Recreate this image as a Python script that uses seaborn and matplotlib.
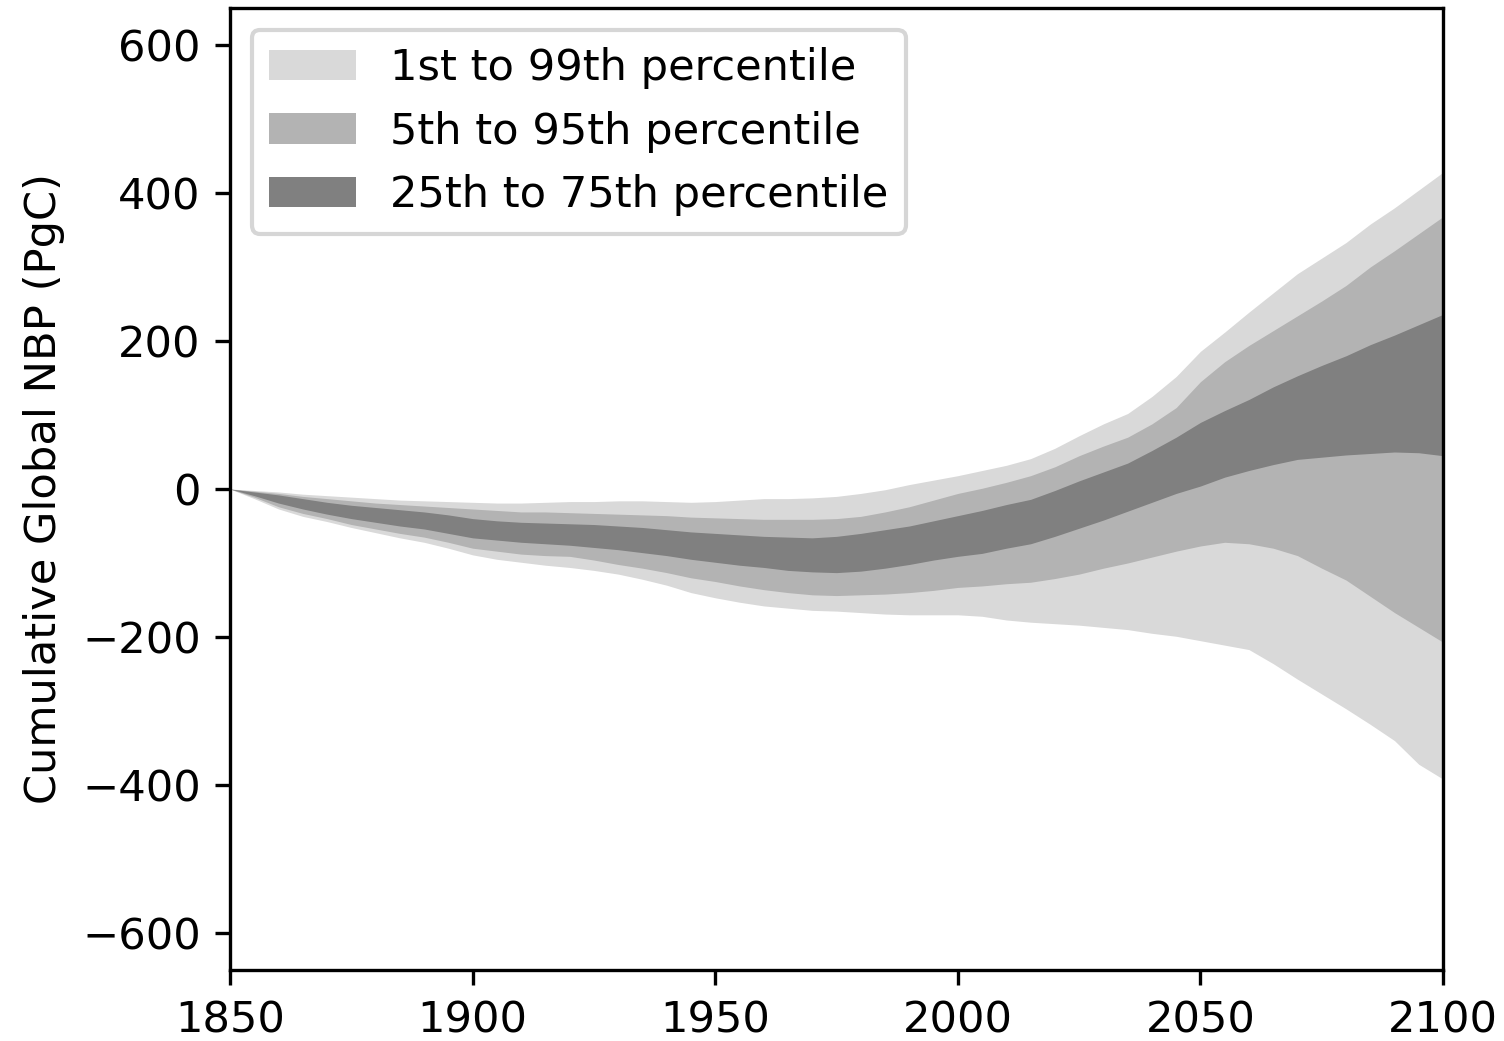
import numpy as np
import matplotlib
matplotlib.use("Agg")
import matplotlib.pyplot as plt
import seaborn as sns

# Years (5-year steps)
years = np.arange(1850, 2101, 5)

# Percentiles of cumulative global NBP (PgC)
p99 = [0, -2, -4, -7, -9, -11, -13, -15, -16, -17, -18, -19, -19, -18, -17, -17,
       -16, -16, -17, -18, -17, -15, -13, -13, -12, -10, -6, -1, 6, 12, 18, 25,
       32, 41, 55, 72, 88, 102, 125, 152, 186, 212, 239, 265, 291, 312, 333, 358,
       380, 404, 428]
p95 = [0, -3, -6, -10, -13, -16, -19, -21, -23, -25, -27, -29, -31, -31, -32, -33,
       -34, -35, -36, -38, -39, -40, -41, -41, -41, -40, -37, -31, -24, -15, -6, 1,
       9, 18, 30, 45, 58, 70, 88, 110, 145, 172, 194, 214, 234, 254, 275, 300,
       322, 345, 368]
p75 = [0, -4, -8, -13, -18, -22, -25, -28, -31, -35, -40, -43, -45, -46, -47, -48,
       -50, -52, -55, -58, -60, -62, -64, -65, -66, -64, -60, -55, -50, -43, -36, -29,
       -21, -14, -2, 11, 23, 35, 52, 70, 90, 106, 121, 138, 153, 167, 180, 195,
       208, 222, 236]
p25 = [0, -9, -19, -27, -34, -40, -45, -50, -54, -60, -66, -69, -72, -74, -76, -79,
       -82, -86, -90, -95, -99, -103, -106, -110, -112, -113, -111, -107, -102, -96, -91, -87,
       -80, -74, -64, -53, -42, -30, -18, -6, 4, 16, 25, 33, 40, 43, 46, 48,
       50, 49, 45]
p5 = [0, -11, -24, -33, -40, -48, -54, -60, -65, -72, -80, -84, -88, -90, -91, -96,
      -102, -107, -113, -120, -125, -131, -136, -140, -143, -144, -143, -142, -140, -137, -133, -131,
      -128, -126, -121, -115, -107, -100, -92, -84, -77, -72, -74, -80, -90, -107, -123, -145,
      -167, -187, -207]
p1 = [0, -13, -27, -37, -44, -52, -59, -66, -72, -80, -89, -95, -99, -103, -106, -110,
      -115, -122, -130, -140, -147, -153, -158, -161, -164, -165, -167, -169, -170, -170, -170, -172,
      -177, -180, -182, -184, -187, -190, -195, -199, -205, -211, -217, -236, -257, -277, -297, -318,
      -340, -372, -392]

band_labels = ["1st to 99th percentile", "5th to 95th percentile", "25th to 75th percentile"]
band_colors = ["#d9d9d9", "#b3b3b3", "#808080"]

sns.set_style("ticks", rc={
    "axes.edgecolor": "black",
    "xtick.color": "black",
    "ytick.color": "black",
    "axes.labelcolor": "black",
    "text.color": "black",
})
plt.rcParams["font.family"] = ["DejaVu Sans"]
fs = 10.4
plt.rcParams["font.size"] = fs

fig = plt.figure(figsize=(1504 / 300, 1041 / 300), dpi=300)
ax = fig.add_axes([230 / 1504, 1 - 970 / 1041, (1443 - 230) / 1504, (970 - 8) / 1041])

bands = [(p1, p99), (p5, p95), (p25, p75)]
for (lo, hi), lab, col in zip(bands, band_labels, band_colors):
    ax.fill_between(years, lo, hi, color=col, linewidth=0, label=lab)

ax.set_xlim(1850, 2100)
ax.set_ylim(-650, 650)
ax.set_xticks(np.arange(1850, 2101, 50))
ax.set_yticks(np.arange(-600, 601, 200))
ax.set_ylabel("Cumulative Global NBP (PgC)", fontsize=fs)
ax.tick_params(labelsize=fs)
for s in ax.spines.values():
    s.set_linewidth(0.8)
ax.legend(loc="upper left", fontsize=fs)

fig.savefig("out.png", dpi=300)
